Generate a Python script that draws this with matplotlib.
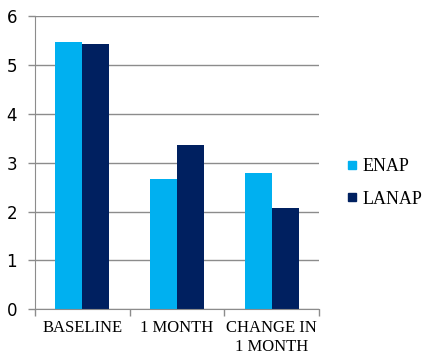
import matplotlib.pyplot as plt
import numpy as np
from matplotlib.lines import Line2D

categories = ['BASELINE', '1 MONTH', 'CHANGE IN\n1 MONTH']
enap = [5.47, 2.66, 2.79]
lanap = [5.43, 3.36, 2.07]
series_names = ['ENAP', 'LANAP']
colors = ['#00B0F0', '#002060']

fig = plt.figure(figsize=(4.26, 3.6), dpi=100)
ax = fig.add_axes([0.0822, 0.1408, 0.6666, 0.8148])

x = np.arange(len(categories))
w = 0.285
ax.bar(x - w / 2, enap, w, color=colors[0], zorder=3)
ax.bar(x + w / 2, lanap, w, color=colors[1], zorder=3)

ax.set_xlim(-0.5, len(categories) - 0.5)
ax.set_ylim(0, 6)
ax.set_yticks(range(7))
ax.yaxis.grid(True, color='#8c8c8c', linewidth=1, zorder=0)

# category labels between ticks, like excel
ax.set_xticks(np.arange(-0.5, len(categories)), minor=False)
ax.set_xticklabels([])
ax.set_xticks(x, minor=True)
ax.set_xticklabels(categories, minor=True, family='Liberation Serif', fontsize=12,
                   linespacing=1.2)
ax.tick_params(axis='x', which='major', length=5, color='#8c8c8c', width=1)
ax.tick_params(axis='x', which='minor', length=0, pad=8)
ax.tick_params(axis='y', length=5, color='#8c8c8c', width=1, labelsize=12, pad=8)

for s in ['top', 'right']:
    ax.spines[s].set_visible(False)
for s in ['left', 'bottom']:
    ax.spines[s].set_color('#8c8c8c')
    ax.spines[s].set_zorder(4)

handles = [Line2D([], [], marker='s', linestyle='none', markersize=6,
                  markerfacecolor=c, markeredgecolor=c) for c in colors]
fig.legend(handles, series_names, loc='center left', bbox_to_anchor=(0.766, 0.492),
           frameon=False, prop={'family': 'Liberation Serif', 'size': 13},
           handletextpad=0.1, labelspacing=0.85, handlelength=1.0)

fig.savefig('out.png', dpi=100)
